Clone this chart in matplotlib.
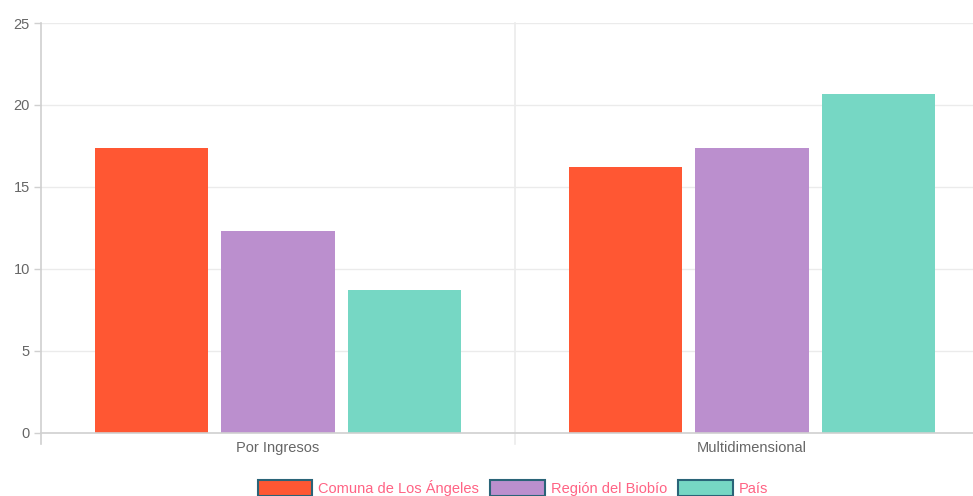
import matplotlib.pyplot as plt
from matplotlib.patches import Patch
import numpy as np

plt.rcParams['font.family'] = ['Liberation Sans', 'DejaVu Sans']

categories = ["Por Ingresos", "Multidimensional"]
series_names = ["Comuna de Los Ángeles", "Región del Biobío", "País"]
comuna = [17.4, 16.2]
region = [12.3, 17.4]
pais = [8.7, 20.7]
colors = ["#FF5733", "#BB8FCE", "#76D7C4"]

fig = plt.figure(figsize=(9.73, 4.96), dpi=100)
ax = fig.add_axes([41 / 973, (496 - 433) / 496, (989 - 41) / 973, (433 - 23) / 496])

x = np.arange(len(categories))
slot = 0.8 / 3
for i, vals in enumerate([comuna, region, pais]):
    ax.bar(x + (i - 1) * slot, vals, width=slot * 0.9, color=colors[i], zorder=3)

ax.set_xlim(-0.5, 1.5)
ax.set_ylim(0, 25)
ax.set_yticks([0, 5, 10, 15, 20, 25])

# grid
for y in [5, 10, 15, 20, 25]:
    ax.axhline(y, color="#ebebeb", lw=1, zorder=1)
ax.axhline(0, color="#d0d0d0", lw=1.2, zorder=4, clip_on=False)
for xv in [-0.5, 0.5]:
    ax.plot([xv, xv], [-0.7, 25], color="#ebebeb" if xv > 0 else "#d0d0d0",
            lw=1.2, zorder=1, clip_on=False)

for s in ax.spines.values():
    s.set_visible(False)

ax.set_xticks(x)
ax.set_xticklabels(categories)
ax.tick_params(axis="x", length=0, pad=6, labelsize=10.5, labelcolor="#666666")
ax.tick_params(axis="y", length=5, width=1, color="#d0d0d0", pad=3,
               labelsize=10.5, labelcolor="#666666")

handles = [Patch(facecolor=c, edgecolor="#2a6478", linewidth=1.5) for c in colors]
fig.legend(handles, series_names, loc="center", bbox_to_anchor=(513 / 973, 1 - 488 / 496),
           ncol=3, frameon=False, fontsize=10.5, labelcolor="#ff6384",
           handlelength=3.75, handleheight=1.3, handletextpad=0.42, columnspacing=0.75,
           borderaxespad=0)

fig.savefig("out.png", dpi=100)
